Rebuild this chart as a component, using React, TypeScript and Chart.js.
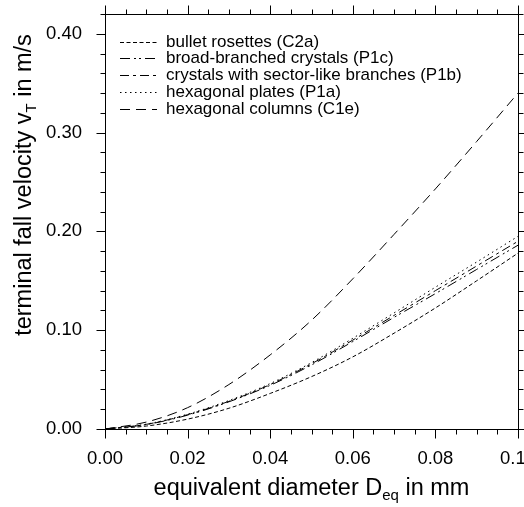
import React, { useEffect, useRef } from "react";
import { Chart, registerables } from "chart.js";

Chart.register(...registerables);

// Equivalent diameter D_eq in mm
const diameters = [0, 0.01, 0.02, 0.03, 0.04, 0.05, 0.06, 0.07, 0.08, 0.09, 0.1];
// Terminal fall velocity v_T in m/s
const bulletRosettes = [0, 0.003, 0.01, 0.021, 0.036, 0.053, 0.073, 0.097, 0.1225, 0.15, 0.178];
const broadBranched = [0, 0.0045, 0.014, 0.0275, 0.0442, 0.0648, 0.0885, 0.113, 0.137, 0.1615, 0.186];
const sectorLike = [0, 0.0047, 0.0145, 0.028, 0.045, 0.066, 0.09, 0.115, 0.14, 0.165, 0.19];
const hexPlates = [0, 0.0049, 0.015, 0.0288, 0.046, 0.0672, 0.0918, 0.1175, 0.1435, 0.169, 0.195];
const hexColumns = [0, 0.007, 0.0216, 0.045, 0.075, 0.11, 0.152, 0.197, 0.243, 0.291, 0.34];

const seriesLabels = [
  "bullet rosettes (C2a)",
  "broad-branched crystals (P1c)",
  "crystals with sector-like branches (P1b)",
  "hexagonal plates (P1a)",
  "hexagonal columns (C1e)",
];

const xTickValues = [0, 0.02, 0.04, 0.06, 0.08, 0.1];
const yTickValues = [0, 0.1, 0.2, 0.3, 0.4];

const FONT = "'Liberation Sans', Arial, Helvetica, sans-serif";

export default function App() {
  const ref = useRef<HTMLCanvasElement>(null);

  useEffect(() => {
    if (!ref.current) return;
    const seriesValues = [bulletRosettes, broadBranched, sectorLike, hexPlates, hexColumns];
    const dashes = [
      [4, 2.5],
      [10, 4, 2, 3, 2, 4],
      [9, 4, 3, 4],
      [1.5, 3.5],
      [10, 6],
    ];

    const datasets = seriesValues.map((vals, i) => ({
      label: seriesLabels[i],
      data: diameters.map((d, j) => ({ x: d, y: vals[j] })),
      borderColor: "#000",
      borderWidth: 1,
      borderDash: dashes[i],
      pointRadius: 0,
      fill: false,
      cubicInterpolationMode: "monotone" as const,
    }));

    const drawWithSub = (
      ctx: CanvasRenderingContext2D,
      main: string,
      sub: string,
      rest: string,
      cx: number,
      baseY: number,
      size: number,
      subSize: number,
      subDrop: number
    ) => {
      ctx.font = `${size}px ${FONT}`;
      const w1 = ctx.measureText(main).width;
      const w3 = ctx.measureText(rest).width;
      ctx.font = `${subSize}px ${FONT}`;
      const w2 = ctx.measureText(sub).width;
      let x = cx - (w1 + w2 + w3) / 2;
      ctx.textAlign = "left";
      ctx.textBaseline = "alphabetic";
      ctx.font = `${size}px ${FONT}`;
      ctx.fillText(main, x, baseY);
      x += w1;
      ctx.font = `${subSize}px ${FONT}`;
      ctx.fillText(sub, x, baseY + subDrop);
      x += w2;
      ctx.font = `${size}px ${FONT}`;
      ctx.fillText(rest, x, baseY);
    };

    const framePlugin = {
      id: "frame",
      afterDraw(chart: any) {
        const { ctx, chartArea: a, scales } = chart;
        const xs = scales.x;
        const ys = scales.y;
        ctx.save();
        ctx.strokeStyle = "#000";
        ctx.lineWidth = 1;
        ctx.setLineDash([]);
        const L = Math.round(a.left) + 0.5;
        const R = Math.round(a.right) + 0.5;
        const T = Math.round(a.top) + 0.5;
        const B = Math.round(a.bottom) + 0.5;
        ctx.strokeRect(L, T, R - L, B - T);
        ctx.beginPath();
        for (let i = 0; i <= 20; i++) {
          const px = Math.round(xs.getPixelForValue(i * 0.005)) + 0.5;
          const len = i % 4 === 0 ? 9 : 5;
          ctx.moveTo(px, B);
          ctx.lineTo(px, B + len);
          ctx.moveTo(px, T);
          ctx.lineTo(px, T - len);
        }
        for (let i = 0; i <= 21; i++) {
          const py = Math.round(ys.getPixelForValue(i * 0.02)) + 0.5;
          const len = i % 5 === 0 ? 9 : 5;
          ctx.moveTo(L, py);
          ctx.lineTo(L - len, py);
          ctx.moveTo(R, py);
          ctx.lineTo(R + len, py);
        }
        ctx.stroke();

        // legend
        chart.data.datasets.forEach((ds: any, i: number) => {
          const y = Math.round(41.7 + i * 16.7) + 0.5;
          ctx.beginPath();
          ctx.setLineDash(ds.borderDash || []);
          ctx.lineWidth = 1;
          ctx.moveTo(120, y);
          ctx.lineTo(157, y);
          ctx.stroke();
          ctx.setLineDash([]);
          ctx.fillStyle = "#000";
          ctx.font = `17px ${FONT}`;
          ctx.textAlign = "left";
          ctx.textBaseline = "middle";
          ctx.fillText(ds.label, 166, y);
        });

        // axis titles
        ctx.fillStyle = "#000";
        drawWithSub(ctx, "equivalent diameter D", "eq", " in mm", (a.left + a.right) / 2, 495, 23.5, 15, 5);
        ctx.translate(31, 185);
        ctx.rotate(-Math.PI / 2);
        drawWithSub(ctx, "terminal fall velocity v", "T", " in m/s", 0, 0, 23.5, 15, 5);
        ctx.restore();
      },
    };

    const chart = new Chart(ref.current, {
      type: "line",
      data: { datasets },
      options: {
        animation: false,
        responsive: false,
        events: [],
        layout: { padding: { top: 14, right: 6, left: 0, bottom: 0 } },
        plugins: {
          legend: { display: false },
          tooltip: { enabled: false },
          title: { display: false },
        },
        scales: {
          x: {
            type: "linear",
            min: 0,
            max: 0.1,
            grid: { display: false, drawTicks: false },
            border: { display: false },
            afterBuildTicks: (s: any) => {
              s.ticks = xTickValues.map((v) => ({ value: v }));
            },
            afterFit: (s: any) => {
              s.height = 78;
              s.paddingLeft = 0;
              s.paddingRight = 0;
            },
            ticks: {
              padding: 19,
              color: "#000",
              font: { family: FONT, size: 18.5 },
              maxRotation: 0,
              autoSkip: false,
              callback: (v: any) => Number(v).toFixed(2),
            },
          },
          y: {
            type: "linear",
            min: 0,
            max: 0.42,
            grid: { display: false, drawTicks: false },
            border: { display: false },
            afterBuildTicks: (s: any) => {
              s.ticks = yTickValues.map((v) => ({ value: v }));
            },
            afterFit: (s: any) => {
              s.width = 105;
              s.paddingTop = 0;
              s.paddingBottom = 0;
            },
            ticks: {
              padding: 23,
              color: "#000",
              font: { family: FONT, size: 18.5 },
              autoSkip: false,
              callback: (v: any) => Number(v).toFixed(2),
            },
          },
        },
      },
      plugins: [framePlugin],
    });
    return () => chart.destroy();
  }, []);

  return (
    <div style={{ position: "fixed", left: 0, top: 0, width: 524, height: 507, background: "#fff" }}>
      <canvas ref={ref} width={524} height={507} style={{ display: "block" }} />
    </div>
  );
}
